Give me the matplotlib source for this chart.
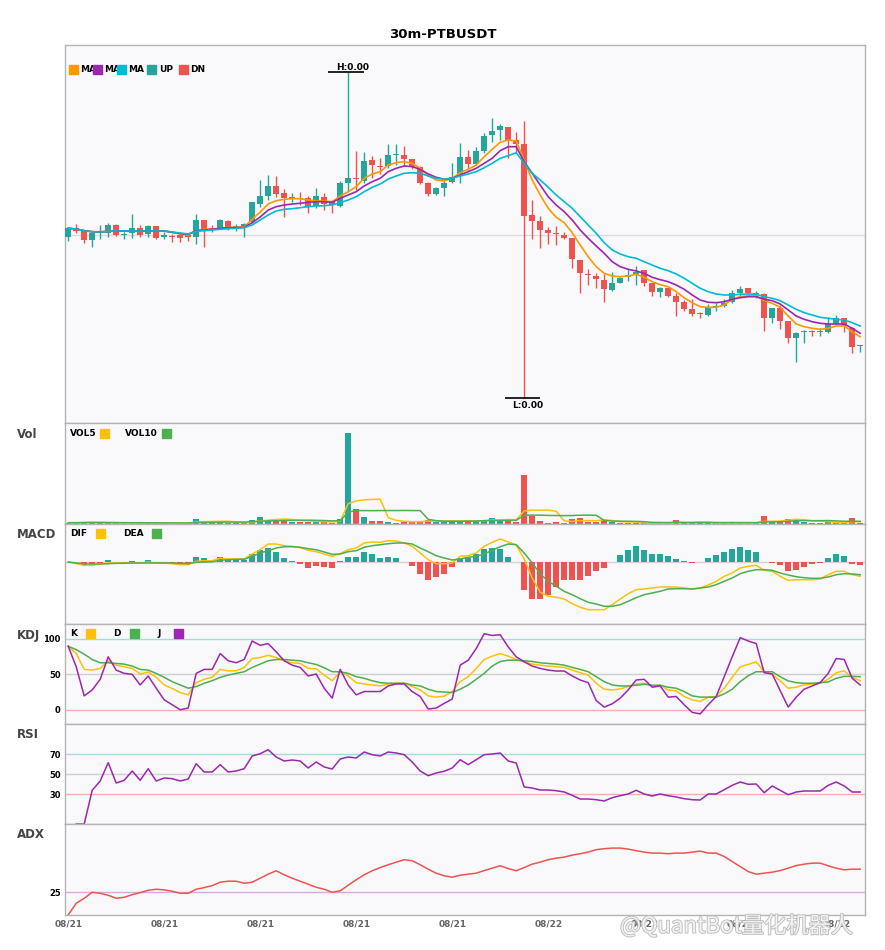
import numpy as np
import matplotlib.pyplot as plt
from matplotlib.patches import Rectangle
import matplotlib.patheffects as pe

# price values are in units of 1e-6 (the chart prints them as 0.00)
PRICE_UNIT = 1e-6

open_ = np.array([
    193.3, 201.7, 199.3, 190.0, 197.0, 197.3, 205.0, 195.3, 196.7, 201.7,
    195.7, 204.0, 193.3, 194.3, 195.0, 194.7, 193.3, 210.0, 201.7, 201.7,
    209.0, 202.3, 202.7, 208.3, 226.0, 234.0, 244.0, 236.7, 230.7, 232.3,
    231.7, 224.0, 232.7, 228.3, 224.0, 247.3, 252.0, 249.3, 270.0, 264.0,
    264.0, 274.7, 275.0, 271.0, 262.7, 247.3, 236.0, 241.7, 248.3, 256.0,
    272.7, 266.0, 279.3, 295.0, 300.0, 303.3, 290.0, 286.0, 215.0, 209.0,
    200.0, 196.7, 195.0, 192.0, 170.0, 156.0, 154.0, 150.0, 140.0, 147.3,
    153.3, 156.0, 160.0, 147.3, 138.0, 141.7, 134.0, 128.3, 121.0, 116.3,
    115.3, 123.0, 124.3, 128.3, 137.3, 142.0, 136.0, 136.0, 112.3, 121.7,
    109.0, 92.3, 97.7, 99.0, 98.0, 98.3, 106.0, 111.7, 101.7, 83.7])
high = np.array([
    202.7, 206.0, 200.0, 198.3, 205.0, 207.0, 206.0, 198.3, 216.0, 205.0,
    205.0, 204.3, 198.3, 195.7, 195.7, 195.7, 216.0, 210.0, 205.0, 211.0,
    210.0, 206.0, 206.7, 228.3, 250.0, 255.0, 254.0, 240.7, 236.7, 238.3,
    234.0, 241.7, 236.7, 230.0, 249.3, 358.0, 278.7, 278.0, 274.0, 271.7,
    286.0, 286.0, 284.0, 271.3, 264.0, 248.3, 243.3, 250.7, 266.7, 286.7,
    280.0, 283.3, 297.3, 311.7, 306.0, 303.3, 298.3, 309.0, 230.0, 214.0,
    202.7, 204.0, 197.7, 192.0, 170.0, 160.7, 156.7, 155.7, 157.7, 152.7,
    160.7, 164.3, 160.0, 147.3, 142.7, 141.7, 136.7, 130.0, 131.3, 118.3,
    126.0, 127.3, 130.7, 140.0, 144.0, 142.0, 139.3, 137.3, 121.7, 125.0,
    109.0, 98.3, 100.0, 100.0, 101.7, 113.3, 115.0, 112.3, 103.3, 85.0])
low = np.array([
    189.3, 197.3, 186.7, 183.3, 191.3, 193.3, 194.3, 190.7, 191.7, 192.7,
    193.3, 191.0, 190.7, 188.3, 188.3, 189.3, 186.0, 183.3, 198.0, 200.7,
    200.0, 199.3, 193.3, 206.7, 223.3, 230.0, 232.7, 213.3, 228.3, 225.0,
    217.3, 221.7, 220.0, 217.3, 223.3, 238.3, 240.0, 247.3, 251.7, 256.0,
    261.7, 265.0, 264.0, 261.3, 246.0, 234.0, 235.0, 234.0, 247.3, 247.3,
    260.0, 265.0, 277.3, 288.3, 290.0, 271.7, 278.3, 32.0, 191.0, 182.3,
    186.0, 185.0, 191.0, 162.3, 137.3, 145.0, 142.3, 128.3, 139.0, 146.7,
    149.3, 145.0, 144.3, 134.3, 133.3, 133.3, 114.0, 119.3, 114.0, 112.3,
    114.3, 119.0, 123.3, 127.3, 133.3, 136.0, 131.7, 99.3, 107.3, 101.0,
    87.3, 68.3, 86.7, 94.3, 94.3, 97.3, 105.0, 98.3, 77.3, 78.3])
close = np.array([
    201.7, 199.3, 190.0, 196.7, 198.7, 205.0, 195.0, 196.0, 202.0, 195.0,
    204.0, 192.3, 195.0, 193.3, 192.3, 192.7, 210.0, 200.7, 200.0, 210.0,
    202.7, 204.0, 206.0, 228.0, 234.0, 244.0, 236.0, 232.3, 232.7, 231.0,
    223.3, 234.0, 226.0, 225.0, 247.3, 252.0, 251.0, 269.0, 265.3, 263.0,
    275.0, 275.3, 271.0, 262.7, 247.3, 236.0, 241.7, 247.3, 253.3, 272.7,
    266.0, 279.3, 294.0, 299.0, 304.0, 289.3, 285.7, 214.0, 209.3, 200.0,
    197.0, 195.7, 192.0, 170.7, 156.7, 155.0, 150.7, 140.7, 146.7, 151.7,
    155.0, 158.3, 147.3, 138.3, 142.0, 134.0, 128.3, 121.3, 116.3, 115.7,
    122.7, 123.7, 127.3, 137.3, 141.0, 136.7, 136.7, 112.3, 121.7, 109.3,
    92.3, 96.7, 98.7, 98.0, 98.7, 106.0, 111.7, 104.0, 83.3, 84.3])

ma5 = np.array([
    201.7, 201.0, 199.3, 198.3, 198.3, 198.7, 199.0, 199.0, 199.0, 199.0,
    199.0, 199.0, 199.0, 197.7, 196.0, 195.0, 199.3, 200.7, 200.7, 201.7,
    202.7, 202.7, 203.3, 210.7, 218.0, 226.0, 229.3, 230.7, 231.3, 231.3,
    230.0, 229.3, 229.0, 228.3, 234.0, 238.3, 243.3, 251.7, 256.0, 258.3,
    265.0, 267.3, 268.3, 266.7, 261.7, 254.3, 250.0, 249.0, 251.7, 257.3,
    260.7, 265.0, 273.3, 280.7, 287.7, 290.0, 289.0, 270.0, 250.0, 235.0,
    221.7, 212.7, 207.3, 197.3, 185.0, 173.3, 163.3, 156.7, 154.0, 153.3,
    154.0, 155.7, 152.7, 148.3, 145.3, 143.3, 138.3, 132.3, 127.3, 123.3,
    122.7, 122.7, 125.0, 130.7, 133.3, 134.3, 134.3, 129.3, 126.7, 122.7,
    114.0, 106.0, 103.3, 101.7, 100.7, 101.7, 104.0, 104.0, 98.3, 93.3])
ma10 = np.array([
    201.7, 201.0, 199.3, 198.3, 198.0, 198.7, 199.0, 199.0, 199.0, 199.0,
    199.0, 199.0, 199.0, 197.7, 196.5, 195.7, 199.3, 200.0, 200.7, 201.7,
    202.3, 202.3, 202.7, 207.3, 213.0, 220.0, 223.3, 225.0, 226.0, 226.7,
    227.7, 228.3, 228.3, 227.7, 231.7, 235.0, 238.3, 244.0, 248.3, 251.7,
    258.3, 261.7, 264.0, 263.3, 260.7, 256.0, 252.7, 250.7, 251.7, 255.0,
    258.3, 261.7, 266.7, 271.7, 279.3, 283.3, 283.3, 268.3, 256.7, 245.0,
    233.3, 225.0, 218.3, 210.0, 200.0, 191.7, 184.0, 176.7, 168.3, 163.3,
    160.7, 159.0, 156.7, 152.7, 150.3, 148.3, 145.0, 140.7, 135.0, 130.0,
    127.7, 127.3, 128.3, 130.7, 132.3, 133.3, 133.3, 130.7, 129.3, 126.0,
    120.0, 114.0, 110.7, 108.3, 106.7, 106.0, 106.0, 106.0, 101.7, 96.7])
ma20 = np.array([
    201.7, 201.0, 199.3, 198.3, 198.0, 198.7, 199.0, 199.0, 199.0, 199.0,
    199.0, 199.0, 199.0, 198.0, 197.0, 196.0, 198.7, 199.3, 200.0, 200.7,
    201.3, 201.7, 202.3, 205.0, 210.0, 215.0, 219.0, 220.7, 221.3, 222.3,
    223.3, 224.0, 224.3, 225.0, 227.3, 230.0, 233.3, 238.3, 242.7, 246.0,
    251.0, 254.0, 256.7, 257.3, 256.7, 254.0, 251.7, 250.7, 251.7, 254.0,
    256.0, 258.3, 262.3, 266.7, 271.7, 274.3, 277.3, 266.7, 256.7, 250.0,
    242.7, 235.0, 228.3, 221.7, 213.3, 205.0, 196.7, 187.3, 180.0, 176.0,
    173.3, 171.7, 168.3, 165.0, 161.7, 159.3, 156.0, 151.7, 146.7, 141.7,
    138.3, 136.0, 135.0, 135.0, 135.7, 136.0, 135.7, 133.3, 131.7, 129.3,
    125.0, 120.7, 117.3, 115.0, 112.7, 111.7, 110.7, 110.0, 107.3, 104.0])

volume = np.array([
    1.3, 1.0, 2.3, 2.3, 1.0, 1.0, 1.0, 0.7, 1.0, 1.0,
    1.0, 1.3, 1.0, 1.0, 1.0, 0.7, 5.3, 3.3, 1.3, 1.7,
    1.3, 1.0, 1.0, 4.3, 7.3, 4.3, 4.3, 4.3, 2.3, 2.3,
    2.3, 2.3, 1.7, 1.3, 5.3, 90.3, 15.3, 7.3, 3.3, 3.3,
    2.3, 1.3, 2.3, 2.3, 3.3, 4.3, 2.3, 2.3, 3.3, 2.3,
    4.3, 3.3, 3.3, 6.3, 3.3, 5.3, 2.3, 48.3, 7.7, 3.3,
    1.3, 2.3, 0.7, 5.3, 6.3, 2.3, 2.3, 4.3, 2.3, 0.7,
    1.3, 1.3, 0.7, 0.7, 0.7, 1.3, 4.3, 1.3, 1.3, 1.3,
    1.3, 0.7, 0.7, 2.3, 0.7, 0.7, 0.7, 8.3, 2.3, 2.3,
    5.3, 5.3, 2.3, 0.7, 0.7, 2.3, 1.3, 1.3, 6.3, 0.7])
vol5 = np.array([
    1.3, 1.2, 1.5, 1.7, 1.6, 1.5, 1.3, 1.0, 1.0, 1.0,
    1.0, 1.0, 1.0, 1.0, 1.0, 0.9, 1.8, 2.3, 2.5, 2.7,
    2.7, 2.0, 1.4, 1.9, 3.1, 3.8, 4.5, 4.9, 4.5, 3.5,
    3.1, 2.7, 2.2, 2.0, 2.6, 20.2, 22.9, 23.9, 24.3, 24.7,
    6.3, 3.6, 2.7, 2.3, 2.3, 2.9, 2.9, 3.0, 3.1, 3.0,
    3.3, 3.1, 3.3, 4.0, 4.0, 4.5, 4.2, 13.0, 13.7, 13.7,
    13.7, 12.6, 3.1, 2.5, 3.3, 3.3, 3.3, 4.1, 3.5, 2.3,
    2.1, 1.9, 1.1, 0.9, 0.9, 0.9, 1.5, 1.7, 1.8, 2.1,
    1.8, 1.1, 1.0, 1.2, 1.1, 1.1, 1.1, 2.6, 2.6, 2.9,
    3.8, 4.7, 4.1, 3.1, 2.9, 2.3, 1.5, 1.3, 2.3, 2.3])
vol10 = np.array([
    1.3, 1.3, 1.4, 1.5, 1.5, 1.4, 1.4, 1.3, 1.3, 1.3,
    1.2, 1.2, 1.1, 1.0, 1.0, 1.0, 1.4, 1.6, 1.7, 1.8,
    1.9, 1.9, 1.9, 2.2, 2.8, 3.1, 3.2, 3.5, 3.6, 3.7,
    3.8, 3.6, 3.4, 3.1, 3.2, 11.8, 13.2, 13.3, 13.2, 13.3,
    13.3, 13.3, 13.4, 13.3, 13.3, 4.6, 3.3, 2.8, 2.8, 2.7,
    2.8, 3.0, 3.3, 3.5, 3.5, 3.6, 3.6, 8.7, 8.8, 8.8,
    8.5, 8.4, 8.3, 8.4, 8.7, 8.8, 8.6, 3.6, 2.9, 2.8,
    2.7, 2.6, 2.3, 1.6, 1.5, 1.4, 1.7, 1.4, 1.3, 1.4,
    1.5, 1.5, 1.4, 1.5, 1.4, 1.4, 1.3, 2.1, 2.1, 2.2,
    2.7, 3.2, 3.4, 3.3, 3.3, 3.4, 3.1, 2.7, 2.8, 2.6])

macd_hist = np.array([
    0, 0, -3.3, -1.7, -0.7, 2.3, 0, -0.7, 1.0, 0,
    2.3, -0.7, -0.7, -0.7, -0.7, -0.7, 5.3, 4.3, 2.3, 5.3,
    3.0, 2.3, 2.3, 8.3, 12.3, 14.3, 10.3, 4.3, 1.0, -1.7,
    -6.3, -3.7, -5.3, -6.3, 1.0, 5.3, 5.3, 10.3, 8.3, 4.3,
    5.3, 4.3, 0, -4.3, -12.3, -17.7, -15.3, -11.7, -5.3, 4.3,
    4.3, 8.3, 13.3, 14.3, 13.3, 5.3, -0.3, -28.3, -37.3, -37.3,
    -32.7, -25.3, -17.7, -17.7, -18.3, -13.7, -9.3, -6.3, 0, 7.3,
    12.3, 16.3, 12.3, 8.3, 8.3, 6.3, 3.3, 1.3, -0.7, 0,
    4.3, 7.3, 10.3, 13.3, 15.3, 12.3, 10.3, 0, -0.7, -3.3,
    -9.3, -8.3, -5.3, -2.3, -0.7, 4.3, 8.3, 6.3, -1.7, -3.3])
dif = np.array([
    0, -1.7, -3.3, -3.3, -2.0, -1.0, -1.0, -1.0, -1.0, -1.0,
    0, -1.0, -1.0, -1.7, -2.7, -2.7, 0.7, 1.3, 1.3, 3.7,
    3.0, 3.0, 3.0, 8.0, 12.3, 18.0, 18.0, 16.3, 15.7, 14.3,
    11.7, 10.3, 8.0, 5.7, 8.3, 12.3, 14.0, 19.0, 20.0, 19.7,
    21.3, 21.0, 19.0, 15.7, 9.0, 2.3, -1.7, -1.7, -1.0, 5.7,
    6.3, 9.0, 15.7, 19.7, 23.0, 20.0, 17.0, 3.0, -16.0, -30.3,
    -34.3, -35.3, -37.0, -41.7, -45.3, -47.7, -47.7, -47.7, -42.7, -37.0,
    -31.7, -27.7, -27.0, -26.0, -25.0, -25.0, -25.0, -26.0, -27.0, -26.0,
    -23.0, -19.3, -14.3, -11.0, -6.0, -4.3, -3.3, -8.3, -9.3, -14.3,
    -18.3, -17.7, -17.7, -17.7, -17.0, -12.7, -9.3, -9.3, -12.7, -14.3])
dea = np.array([
    0, -1.0, -1.7, -2.0, -2.0, -1.7, -1.3, -1.3, -1.0, -1.0,
    -1.0, -1.0, -1.0, -1.0, -1.3, -1.7, -0.3, 0, 0.3, 1.7,
    2.3, 2.7, 2.7, 5.7, 9.0, 11.3, 14.0, 15.3, 15.3, 14.7,
    13.3, 12.3, 10.0, 7.7, 8.0, 10.3, 11.3, 14.7, 16.3, 17.3,
    18.3, 19.0, 19.0, 18.0, 14.0, 10.3, 6.3, 4.0, 2.0, 3.0,
    4.7, 5.7, 8.0, 11.7, 15.3, 18.0, 17.3, 9.0, -1.0, -11.7,
    -19.3, -24.3, -29.3, -32.7, -36.7, -40.3, -42.0, -44.3, -44.3, -42.7,
    -39.3, -35.7, -32.7, -31.0, -29.3, -27.0, -26.7, -26.7, -27.0, -26.0,
    -25.0, -22.7, -19.3, -16.0, -11.7, -9.3, -7.7, -7.7, -8.3, -11.0,
    -13.0, -14.7, -15.7, -16.3, -16.3, -15.0, -12.7, -11.7, -12.0, -12.7])

kdj_k = np.array([
    89.7, 79.4, 57.0, 56.0, 58.4, 69.2, 63.0, 60.7, 58.4, 50.5,
    53.3, 45.8, 35.0, 30.0, 24.3, 21.0, 38.3, 43.0, 45.8, 57.0,
    55.0, 55.0, 59.8, 72.4, 73.8, 77.0, 73.8, 69.2, 66.4, 65.4,
    58.4, 58.0, 49.0, 41.0, 53.7, 47.7, 38.3, 36.4, 35.0, 33.6,
    36.4, 37.4, 37.4, 32.7, 28.0, 19.6, 17.8, 19.2, 25.7, 39.7,
    46.7, 58.4, 71.0, 75.7, 79.4, 75.7, 71.0, 67.8, 64.5, 63.0,
    61.7, 60.7, 59.8, 56.0, 52.3, 49.0, 37.4, 29.0, 28.0, 29.4,
    32.7, 36.4, 37.4, 33.6, 34.6, 28.0, 26.6, 18.7, 14.0, 11.7,
    17.8, 18.7, 30.4, 45.8, 60.7, 64.0, 67.8, 53.7, 50.5, 40.7,
    30.4, 31.8, 35.0, 36.4, 37.4, 43.0, 52.3, 55.0, 45.8, 41.0])
kdj_d = np.array([
    89.7, 85.0, 78.5, 71.0, 66.4, 66.4, 65.4, 64.5, 61.7, 57.0,
    56.0, 51.4, 45.8, 39.7, 35.0, 30.4, 32.7, 37.4, 41.0, 45.8,
    49.0, 51.4, 53.7, 59.8, 64.5, 69.2, 71.0, 71.0, 70.0, 69.2,
    66.4, 64.0, 59.3, 53.7, 53.7, 51.4, 46.7, 44.4, 41.0, 38.3,
    37.4, 37.4, 37.4, 35.0, 33.6, 29.0, 25.7, 25.0, 24.3, 29.0,
    35.0, 43.0, 51.4, 61.7, 68.2, 70.0, 70.0, 69.2, 68.2, 66.4,
    65.4, 64.5, 63.0, 59.8, 57.0, 53.7, 46.7, 39.7, 35.0, 33.6,
    33.6, 34.6, 36.0, 34.6, 34.6, 31.8, 30.4, 25.7, 19.6, 17.8,
    17.8, 17.8, 22.4, 29.0, 39.7, 48.0, 53.7, 53.7, 53.7, 46.7,
    40.7, 38.3, 37.4, 37.4, 38.3, 39.3, 44.4, 47.2, 47.2, 46.7])
kdj_j = np.array([
    89.7, 60.7, 19.6, 28.0, 43.0, 74.8, 56.0, 51.4, 50.0, 35.0,
    47.7, 30.4, 14.0, 7.0, 0.0, 2.3, 51.4, 57.0, 57.0, 79.4,
    69.2, 66.4, 71.0, 97.2, 91.0, 93.5, 81.8, 69.2, 63.0, 59.8,
    47.7, 50.5, 30.4, 16.4, 57.0, 35.0, 21.0, 25.7, 25.7, 25.7,
    33.6, 36.4, 36.4, 25.7, 18.7, 1.0, 2.3, 9.0, 15.0, 63.0,
    70.0, 86.4, 107.5, 105.0, 106.0, 88.8, 74.8, 67.8, 61.7, 58.4,
    56.0, 54.7, 54.7, 47.7, 42.0, 38.3, 13.0, 3.7, 8.4, 16.4,
    28.0, 42.0, 43.0, 31.8, 33.6, 17.8, 18.7, 7.0, -3.7, -6.0,
    7.0, 18.7, 46.7, 74.8, 101.9, 97.2, 93.5, 52.3, 50.5, 27.0,
    3.7, 17.8, 29.0, 33.6, 38.3, 51.4, 72.4, 71.0, 44.4, 35.0])

rsi = np.array([
    np.nan, 0.0, 0.0, 33.7, 43.0, 61.3, 41.0, 43.7, 53.0, 43.7,
    55.3, 43.0, 46.0, 45.3, 43.0, 45.0, 60.3, 52.0, 52.0, 59.3,
    52.0, 53.0, 55.3, 68.0, 70.3, 74.3, 67.0, 63.0, 64.0, 63.0,
    56.0, 62.0, 57.0, 55.0, 65.0, 67.0, 66.0, 72.0, 69.3, 68.0,
    72.0, 71.0, 69.3, 62.0, 53.0, 48.3, 51.0, 52.7, 56.0, 64.3,
    59.3, 64.3, 69.3, 70.0, 71.0, 63.0, 61.0, 37.0, 36.0, 34.0,
    34.0, 33.3, 32.0, 28.7, 25.0, 25.0, 24.3, 23.0, 26.3, 28.3,
    30.0, 33.7, 30.0, 28.0, 30.0, 28.3, 27.0, 25.3, 24.3, 24.0,
    30.0, 30.0, 34.3, 38.7, 42.0, 39.7, 40.0, 31.3, 38.0, 33.7,
    29.3, 32.0, 33.0, 33.0, 33.0, 38.7, 42.0, 38.0, 32.0, 32.0])

adx = np.array([
    13.7, 19.5, 22.0, 25.0, 24.5, 23.5, 22.0, 22.5, 23.8, 24.8,
    26.0, 26.5, 26.2, 25.5, 24.5, 24.5, 26.5, 27.3, 28.3, 30.0,
    30.5, 30.5, 29.5, 30.0, 32.0, 34.0, 35.7, 33.7, 32.0, 30.5,
    29.0, 27.5, 26.5, 25.0, 25.7, 28.5, 31.2, 33.7, 35.7, 37.3,
    38.7, 40.0, 41.2, 40.7, 38.7, 36.5, 34.5, 33.2, 32.5, 33.5,
    34.0, 34.5, 35.8, 37.0, 38.2, 36.8, 35.7, 37.3, 39.0, 40.0,
    41.2, 42.0, 42.5, 43.5, 44.2, 45.0, 46.2, 46.7, 47.0, 47.0,
    46.5, 45.7, 45.0, 44.5, 44.5, 44.2, 44.5, 44.5, 45.0, 45.5,
    44.5, 44.5, 42.8, 40.3, 37.8, 35.3, 34.0, 34.5, 35.0, 35.8,
    37.0, 38.3, 39.0, 39.5, 39.5, 38.2, 37.0, 36.2, 36.5, 36.5])

xtick_labels = ['08/21', '08/21', '08/21', '08/21', '08/21',
                '08/22', '08/22', '08/22', '08/22']

# colours
UP, DN = '#26a69a', '#ef5350'
ORANGE, PURPLE, CYAN = '#ff9800', '#9c27b0', '#00bcd4'
YELLOW, GREEN = '#ffc107', '#4caf50'
FACE, EDGE = '#f9f9fb', '#b4b4b4'

W, H = 885, 950
fig = plt.figure(figsize=(W / 100, H / 100), dpi=100)


def fx(px):
    return px / W


def fy(py):
    return 1 - py / H


def make_ax(top, bottom):
    ax = fig.add_axes([fx(65), fy(bottom), (865 - 65) / W, (bottom - top) / H])
    ax.set_facecolor(FACE)
    for s in ax.spines.values():
        s.set_color(EDGE)
        s.set_linewidth(1)
    ax.tick_params(length=0, labelsize=6, pad=3)
    ax.set_xlim(-0.4, 99.6)
    ax.set_xticks([])
    for t in ax.get_yticklabels():
        t.set_fontweight('bold')
    return ax


def legend_item(x, y, label, color, text_first=False, size=6.5):
    # colored square + bold text, placed in figure pixels
    if text_first:
        fig.text(fx(x), fy(y), label, fontsize=size, fontweight='bold',
                 va='center', ha='left')
    else:
        fig.add_artist(Rectangle((fx(x), fy(y + 4.5)), 9 / W, 9 / H,
                                 transform=fig.transFigure, color=color, zorder=5))
        fig.text(fx(x + 11), fy(y), label, fontsize=size, fontweight='bold',
                 va='center', ha='left', zorder=4)


def square(x, y, color):
    fig.add_artist(Rectangle((fx(x), fy(y + 4.5)), 9 / W, 9 / H,
                             transform=fig.transFigure, color=color, zorder=5))


def panel_title(y, text):
    fig.text(fx(17), fy(y), text, fontsize=8.5, fontweight='bold',
             color='#444444', va='center', ha='left')


x = np.arange(len(close))
up = close >= open_
bar_colors = np.where(up, UP, DN)

# ---- main candlestick panel
ax = make_ax(45, 423)
ax.set_yticks([])
ax.set_ylim(7 * PRICE_UNIT, 385 * PRICE_UNIT)
ax.axhline(195 * PRICE_UNIT, color='#dcdcdc', lw=1, zorder=0)
ax.vlines(x, low * PRICE_UNIT, high * PRICE_UNIT, colors=bar_colors, lw=1, zorder=2)
body = np.maximum(np.abs(close - open_), 0.9) * PRICE_UNIT
ax.bar(x, body, bottom=np.minimum(open_, close) * PRICE_UNIT, width=0.72,
       color=bar_colors, zorder=3)
ax.plot(x, ma5 * PRICE_UNIT, color=ORANGE, lw=1.2, zorder=4)
ax.plot(x, ma10 * PRICE_UNIT, color=PURPLE, lw=1.2, zorder=4)
ax.plot(x, ma20 * PRICE_UNIT, color=CYAN, lw=1.2, zorder=4)

ih, il = int(np.argmax(high)), int(np.argmin(low))
ax.hlines(high[ih] * PRICE_UNIT, ih - 2.5, ih + 2, color='black', lw=1.2, zorder=5)
ax.text(ih + 0.5, high[ih] * PRICE_UNIT, f'H:{high[ih] * PRICE_UNIT:.2f}',
        ha='center', va='bottom', fontsize=6.5, fontweight='bold')
ax.hlines(low[il] * PRICE_UNIT, il - 2.4, il + 2, color='black', lw=1.2, zorder=5)
ax.text(il + 0.4, low[il] * PRICE_UNIT - 3 * PRICE_UNIT, f'L:{low[il] * PRICE_UNIT:.2f}',
        ha='center', va='top', fontsize=6.5, fontweight='bold')

for xs, lab, col in [(69, 'MA', ORANGE), (93, 'MA', PURPLE), (117, 'MA', CYAN)]:
    fig.text(fx(xs + 11), fy(69), lab, fontsize=6.5, fontweight='bold', va='center')
for xs, col in [(69, ORANGE), (93, PURPLE), (117, CYAN), (147, UP), (179, DN)]:
    square(xs, 69, col)
fig.text(fx(159), fy(69), 'UP', fontsize=6.5, fontweight='bold', va='center')
fig.text(fx(190), fy(69), 'DN', fontsize=6.5, fontweight='bold', va='center')

# ---- volume
ax = make_ax(423, 524)
ax.set_yticks([])
ax.set_ylim(0, 100)
ax.bar(x, volume, width=0.72, color=bar_colors)
ax.plot(x, vol5, color=YELLOW, lw=1.1)
ax.plot(x, vol10, color=GREEN, lw=1.1)
panel_title(435, 'Vol')
fig.text(fx(70), fy(433), 'VOL5', fontsize=6.5, fontweight='bold', va='center')
square(100, 433, YELLOW)
fig.text(fx(125), fy(433), 'VOL10', fontsize=6.5, fontweight='bold', va='center')
square(162, 433, GREEN)

# ---- MACD
ax = make_ax(524, 624)
ax.set_yticks([])
ax.set_ylim(-62, 38)
ax.axhline(0, color='#d4d4d4', lw=1, zorder=0)
ax.bar(x, macd_hist, width=0.72, color=np.where(macd_hist >= 0, UP, DN))
ax.plot(x, dif, color=YELLOW, lw=1.1)
ax.plot(x, dea, color=GREEN, lw=1.1)
panel_title(534, 'MACD')
fig.text(fx(70), fy(533), 'DIF', fontsize=6.5, fontweight='bold', va='center')
square(96, 533, YELLOW)
fig.text(fx(123), fy(533), 'DEA', fontsize=6.5, fontweight='bold', va='center')
square(152, 533, GREEN)

# ---- KDJ
ax = make_ax(624, 724)
ax.set_ylim(-20.2, 121.2)
ax.set_yticks([0, 50, 100])
for t in ax.get_yticklabels():
    t.set_fontweight('bold')
for lvl, c in [(100, '#a6dcdc'), (50, '#cfcfcf'), (0, '#f6b0b0')]:
    ax.axhline(lvl, color=c, lw=1, zorder=0)
ax.plot(x, kdj_k, color=YELLOW, lw=1.1)
ax.plot(x, kdj_d, color=GREEN, lw=1.1)
ax.plot(x, kdj_j, color=PURPLE, lw=1.1)
panel_title(635, 'KDJ')
fig.text(fx(70), fy(633), 'K', fontsize=6.5, fontweight='bold', va='center')
square(86, 633, YELLOW)
fig.text(fx(113), fy(633), 'D', fontsize=6.5, fontweight='bold', va='center')
square(130, 633, GREEN)
fig.text(fx(157), fy(633), 'J', fontsize=6.5, fontweight='bold', va='center')
square(174, 633, PURPLE)

# ---- RSI
ax = make_ax(724, 824)
ax.set_ylim(0, 100)
ax.set_yticks([30, 50, 70])
for t in ax.get_yticklabels():
    t.set_fontweight('bold')
for lvl, c in [(70, '#a6dcdc'), (50, '#cfcfcf'), (30, '#f6b0b0')]:
    ax.axhline(lvl, color=c, lw=1, zorder=0)
ax.plot(x, rsi, color=PURPLE, lw=1.1, clip_on=False)
panel_title(735, 'RSI')

# ---- ADX
ax = make_ax(824, 915)
ax.set_ylim(13.67, 59)
ax.set_yticks([25])
for t in ax.get_yticklabels():
    t.set_fontweight('bold')
ax.axhline(25, color='#dda6e6', lw=1, zorder=0)
ax.plot(x, adx, color=DN, lw=1.1, clip_on=False)
panel_title(835, 'ADX')
ticks = np.arange(0, len(x), 12)
ax.set_xticks(ticks)
ax.set_xticklabels(xtick_labels, fontsize=6.5, fontweight='bold', color='#666666')

fig.suptitle('30m-PTBUSDT', x=0.5, y=fy(34), va='center', fontsize=9.5, fontweight='bold')

# image-host watermark
fig.text(fx(620), fy(926), '@QuantBot量化机器人', fontsize=16, color='#f2f2f2',
         va='center', ha='left', family=['Noto Sans CJK SC', 'DejaVu Sans'],
         path_effects=[pe.withStroke(linewidth=1.3, foreground='#bdbdbd')], zorder=10)

fig.savefig('out.png', dpi=100, facecolor='white')
